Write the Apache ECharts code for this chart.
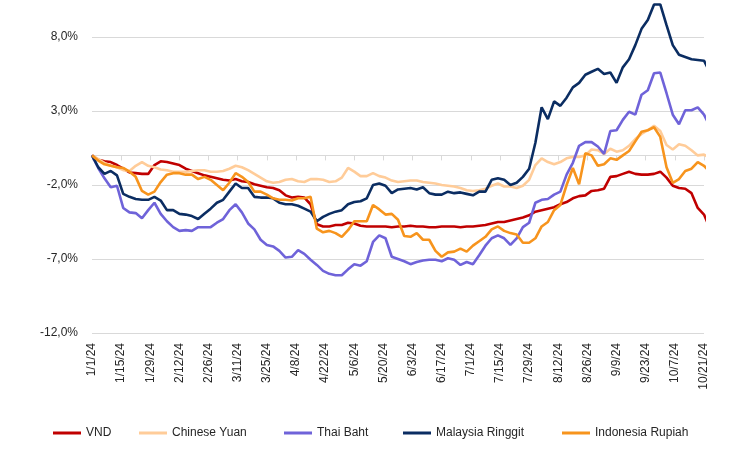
<!DOCTYPE html>
<html>
<head>
<meta charset="utf-8">
<script src="https://cdn.jsdelivr.net/npm/echarts@6/dist/echarts.min.js"></script>
<style>html,body{margin:0;padding:0;background:#fff}#c{width:738px;height:454px}</style>
</head>
<body>
<div id="c"></div>
<script>
const dates = [
'2024-01-01','2024-01-04','2024-01-07','2024-01-10','2024-01-13','2024-01-16','2024-01-19','2024-01-22','2024-01-25','2024-01-28','2024-01-31',
'2024-02-03','2024-02-06','2024-02-09','2024-02-12','2024-02-15','2024-02-18','2024-02-21','2024-02-24','2024-02-27',
'2024-03-01','2024-03-04','2024-03-07','2024-03-10','2024-03-13','2024-03-16','2024-03-19','2024-03-22','2024-03-25','2024-03-28','2024-03-31',
'2024-04-03','2024-04-06','2024-04-09','2024-04-12','2024-04-15','2024-04-18','2024-04-21','2024-04-24','2024-04-27','2024-04-30',
'2024-05-03','2024-05-06','2024-05-09','2024-05-12','2024-05-15','2024-05-18','2024-05-21','2024-05-24','2024-05-27','2024-05-30',
'2024-06-02','2024-06-05','2024-06-08','2024-06-11','2024-06-14','2024-06-17','2024-06-20','2024-06-23','2024-06-26','2024-06-29',
'2024-07-02','2024-07-05','2024-07-08','2024-07-11','2024-07-14','2024-07-17','2024-07-20','2024-07-23','2024-07-26','2024-07-29',
'2024-08-01','2024-08-04','2024-08-07','2024-08-10','2024-08-13','2024-08-16','2024-08-19','2024-08-22','2024-08-25','2024-08-28','2024-08-31',
'2024-09-03','2024-09-06','2024-09-09','2024-09-12','2024-09-15','2024-09-18','2024-09-21','2024-09-24','2024-09-27','2024-09-30',
'2024-10-03','2024-10-06','2024-10-09','2024-10-12','2024-10-15','2024-10-18','2024-10-21','2024-10-23'
];

const tickLabels = ['1/1/24','1/15/24','1/29/24','2/12/24','2/26/24','3/11/24','3/25/24','4/8/24','4/22/24','5/6/24','5/20/24',
'6/3/24','6/17/24','7/1/24','7/15/24','7/29/24','8/12/24','8/26/24','9/9/24','9/23/24','10/7/24','10/21/24'];

const vnd = [
0,-0.3,-0.4,-0.45,-0.65,-0.9,-1.15,-1.2,-1.25,-1.25,
-0.65,-0.4,-0.45,-0.55,-0.65,-0.9,-1.05,-1.2,-1.35,-1.45,
-1.55,-1.65,-1.7,-1.6,-1.75,-1.8,-1.95,-2.05,-2.15,-2.2,
-2.35,-2.7,-2.85,-2.8,-2.85,-3.3,-4.65,-4.8,-4.8,-4.7,
-4.7,-4.55,-4.6,-4.75,-4.8,-4.8,-4.8,-4.8,-4.85,-4.8,
-4.8,-4.75,-4.8,-4.8,-4.85,-4.85,-4.8,-4.8,-4.8,-4.85,
-4.8,-4.8,-4.75,-4.7,-4.6,-4.5,-4.5,-4.4,-4.3,-4.2,
-4.05,-3.8,-3.7,-3.6,-3.5,-3.3,-3.15,-2.9,-2.75,-2.7,
-2.4,-2.35,-2.25,-1.45,-1.4,-1.25,-1.1,-1.25,-1.3,-1.3,
-1.25,-1.1,-1.5,-2.05,-2.2,-2.25,-2.55,-3.55,-4.0,-4.65
];
const chineseYuan = [
0,-0.25,-0.5,-0.7,-0.8,-1.0,-1.05,-0.7,-0.45,-0.7,
-0.8,-0.95,-1.0,-1.1,-1.1,-1.1,-1.05,-1.0,-1.0,-1.1,
-1.1,-1.05,-0.9,-0.7,-0.8,-1.0,-1.25,-1.5,-1.75,-1.85,
-1.8,-1.65,-1.6,-1.75,-1.8,-1.6,-1.6,-1.65,-1.8,-1.75,
-1.5,-0.85,-1.1,-1.4,-1.4,-1.2,-1.4,-1.5,-1.7,-1.8,
-1.75,-1.7,-1.7,-1.8,-1.85,-1.9,-2.0,-2.05,-2.1,-2.2,
-2.35,-2.4,-2.35,-2.25,-2.05,-1.9,-2.1,-2.1,-2.2,-2.05,
-1.65,-0.65,-0.2,-0.45,-0.6,-0.45,-0.2,-0.1,-0.1,0.0,
0.4,0.35,0.1,0.45,0.25,0.35,0.65,1.1,1.45,1.7,
2.0,1.65,0.7,0.4,0.75,0.65,0.35,0.0,0.05,-0.1
];
const thaiBaht = [
0,-0.85,-1.55,-2.15,-2.05,-3.55,-3.85,-3.9,-4.25,-3.7,
-3.2,-3.95,-4.45,-4.85,-5.1,-5.05,-5.1,-4.85,-4.85,-4.85,
-4.55,-4.3,-3.7,-3.3,-3.85,-4.6,-5.0,-5.7,-6.05,-6.15,
-6.45,-6.9,-6.85,-6.4,-6.65,-7.05,-7.4,-7.8,-8.0,-8.1,
-8.1,-7.7,-7.35,-7.45,-7.15,-5.85,-5.4,-5.6,-6.85,-7.0,
-7.15,-7.35,-7.2,-7.1,-7.05,-7.05,-7.15,-6.95,-7.05,-7.4,
-7.2,-7.35,-6.75,-6.1,-5.6,-5.4,-5.6,-6.05,-5.6,-4.85,
-4.55,-3.2,-3.0,-2.95,-2.65,-2.45,-1.3,-0.5,0.65,0.9,
0.9,0.6,0.1,1.65,1.7,2.4,2.95,2.75,4.1,4.4,
5.55,5.6,4.2,2.75,2.1,3.05,3.05,3.25,2.75,2.2
];
const malaysiaRinggit = [
0,-0.8,-1.25,-1.05,-1.35,-2.6,-2.8,-2.95,-3.0,-3.0,
-2.8,-3.05,-3.7,-3.7,-3.95,-4.0,-4.1,-4.3,-3.95,-3.6,
-3.2,-3.0,-2.45,-1.9,-2.2,-2.2,-2.8,-2.85,-2.85,-2.9,
-3.2,-3.3,-3.3,-3.4,-3.6,-3.8,-4.45,-4.15,-3.95,-3.8,
-3.7,-3.3,-3.15,-3.1,-2.9,-2.0,-1.9,-2.05,-2.55,-2.3,
-2.25,-2.2,-2.3,-2.15,-2.55,-2.65,-2.65,-2.45,-2.55,-2.5,
-2.6,-2.7,-2.45,-2.45,-1.65,-1.55,-1.65,-2.0,-1.85,-1.45,
-0.9,0.85,3.25,2.45,3.65,3.35,3.9,4.6,4.9,5.45,
5.65,5.85,5.5,5.6,4.9,5.95,6.5,7.45,8.55,9.15,
10.2,10.2,8.8,7.45,6.8,6.65,6.5,6.45,6.4,5.85
];
const indonesiaRupiah = [
0,-0.35,-0.6,-0.7,-0.8,-0.85,-1.1,-1.45,-2.4,-2.65,
-2.45,-1.8,-1.3,-1.2,-1.2,-1.3,-1.3,-1.6,-1.45,-1.65,
-2.0,-2.35,-1.85,-1.2,-1.45,-1.8,-2.45,-2.45,-2.65,-2.9,
-3.0,-3.0,-3.05,-2.9,-2.9,-2.8,-4.95,-5.2,-5.1,-5.25,
-5.5,-5.05,-4.45,-4.45,-4.45,-3.35,-3.65,-4.0,-3.95,-4.35,
-5.45,-5.5,-5.25,-5.7,-5.7,-6.45,-6.85,-6.55,-6.5,-6.3,
-6.5,-6.1,-5.8,-5.5,-5.0,-4.8,-5.1,-5.25,-5.35,-5.9,
-5.9,-5.6,-4.8,-4.5,-3.7,-3.35,-2.0,-0.85,-1.95,0.15,
0.0,-0.7,-0.6,-0.2,-0.3,0.0,0.3,0.95,1.6,1.7,
1.9,1.25,-0.8,-1.85,-1.6,-1.05,-0.9,-0.45,-0.7,-1.0
];

const seriesNames = ['VND','Chinese Yuan','Thai Baht','Malaysia Ringgit','Indonesia Rupiah'];
const seriesValues = [vnd, chineseYuan, thaiBaht, malaysiaRinggit, indonesiaRupiah];
const seriesColors = ['#C00000','#FFCC99','#6F63D9','#0B2D62','#F7941D'];
const legendLeft = [53, 139, 284, 403, 562];

const start = Date.UTC(2024,0,1);
const dayOf = s => { const p = s.split('-').map(Number); return Math.round((Date.UTC(p[0],p[1]-1,p[2]) - start)/86400000); };
const xs = dates.map(dayOf);

const font = "'Liberation Sans', Arial, sans-serif";
const chart = echarts.init(document.getElementById('c'), null, {renderer:'canvas'});
chart.setOption({
  animation: false,
  backgroundColor: '#fff',
  grid: {left: 92, right: 34, top: 0, bottom: 121, containLabel: false},
  xAxis: [
    {type:'value', min:0, max:294, interval:14, position:'bottom',
     axisLine:{show:true, onZero:true, lineStyle:{color:'#D9D9D9', width:1}},
     axisTick:{show:true, length:5, lineStyle:{color:'#D9D9D9'}},
     axisLabel:{show:false}, splitLine:{show:false}},
    {type:'value', min:0, max:294, interval:14, position:'bottom',
     axisLine:{show:false, onZero:false}, axisTick:{show:false}, splitLine:{show:false},
     axisLabel:{show:true, rotate:90, margin:10, fontSize:12, fontFamily:font, color:'#262626',
       formatter: v => tickLabels[Math.round(v/14)] || ''}}
  ],
  yAxis: {type:'value', min:-12, max:10.5, interval:5,
    axisLine:{show:false}, axisTick:{show:false},
    splitLine:{show:true, showMaxLine:false, lineStyle:{color:'#D9D9D9', width:1}},
    axisLabel:{margin:14, fontSize:12, fontFamily:font, color:'#262626', showMaxLabel:false,
      formatter: v => (Math.abs(v - Math.round(v)) > 1e-9 ? '' : v.toFixed(1).replace('.', ',') + '%')}},
  legend: seriesNames.map((n,i) => ({
    data:[n], left: legendLeft[i], top: 427, padding:0, icon:'rect', itemWidth:28, itemHeight:3,
    textStyle:{fontSize:12, fontFamily:font, color:'#262626'}
  })),
  series: seriesNames.map((n,i) => ({
    name:n, type:'line', xAxisIndex:0, showSymbol:false, clip:false,
    color: seriesColors[i],
    lineStyle:{width:2.6, color: seriesColors[i]},
    data: xs.map((x,k) => [x, seriesValues[i][k]])
  }))
});
</script>
</body>
</html>
